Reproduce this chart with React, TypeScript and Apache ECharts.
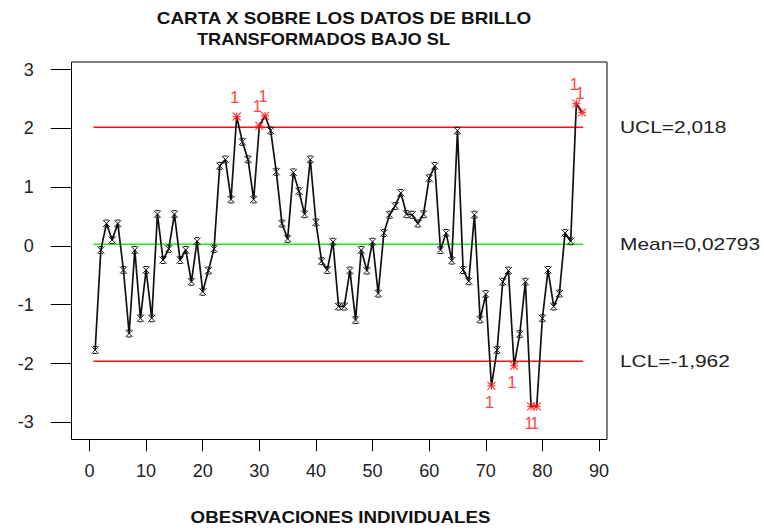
import React, { useEffect, useRef } from "react";
import * as echarts from "echarts";

// Individual observations (transformed brightness data), in order 1..87
const observations: number[] = [
  -1.77, -0.07, 0.38, 0.1, 0.38, -0.41, -1.49, -0.07, -1.23, -0.41,
  -1.23, 0.54, -0.24, -0.05, 0.54, -0.24, -0.07, -0.61, 0.08, -0.78,
  -0.42, -0.05, 1.36, 1.47, 0.79, 2.2, 1.77, 1.47, 0.79, 2.04,
  2.21, 1.96, 1.26, 0.38, 0.12, 1.25, 0.93, 0.54, 1.47, 0.4,
  -0.26, -0.41, 0.07, -1.03, -1.03, -0.42, -1.26, -0.07, -0.42, 0.07,
  -0.81, 0.22, 0.53, 0.68, 0.9, 0.54, 0.53, 0.38, 0.54, 1.15,
  1.36, -0.07, 0.22, -0.25, 1.96, -0.41, -0.6, 0.53, -1.25, -0.82,
  -2.38, -1.77, -0.61, -0.42, -2.04, -1.5, -0.61, -2.73, -2.73, -1.23,
  -0.41, -1.03, -0.81, 0.22, 0.08, 2.42, 2.27,
];

const UCL = 2.018;
const MEAN = 0.02793;
const LCL = -1.962;
const limitSpan: number[] = [0.7, 87.2];

const titleLines: string[] = ["CARTA X SOBRE LOS DATOS DE BRILLO", "TRANSFORMADOS BAJO SL"];
const xAxisTitle = "OBESRVACIONES INDIVIDUALES";
const limitLabels: string[] = ["UCL=2,018", "Mean=0,02793", "LCL=-1,962"];

const X_SYMBOL = "path://M0,0L8,8M8,0L0,8M1.5,0L6.5,0M1.5,8L6.5,8";
const STAR_SYMBOL = "path://M0,0L8,8M8,0L0,8M0,4L8,4M4,0L4,8";

export default function App() {
  const ref = useRef<HTMLDivElement>(null);

  useEffect(() => {
    if (!ref.current) return;
    const chart = echarts.init(ref.current, null, { renderer: "svg" });

    const isOut = (v: number) => v > UCL || v < LCL;
    const mainData = observations.map((v, i) =>
      isOut(v) ? { value: [i + 1, v], symbol: "none" } : { value: [i + 1, v] }
    );
    const outData = observations
      .map((v, i) => ({ v, i }))
      .filter((d) => isOut(d.v))
      .map((d) => ({
        value: [d.i + 1, d.v],
        label: {
          position: d.v > UCL ? "top" : "bottom",
          distance: d.v > UCL ? 6 : 4,
          offset: [-2, 0],
        },
      }));

    const limitLine = (val: number, color: string) => ({
      type: "line",
      data: limitSpan.map((x) => [x, val]),
      symbol: "none",
      lineStyle: { color, width: 1.5 },
      silent: true,
      z: 1,
    });

    const textFont = "'Liberation Sans', Arial, sans-serif";

    chart.setOption({
      animation: false,
      backgroundColor: "#ffffff",
      grid: { left: 89.5, right: 165, top: 69.5, bottom: 107.7 },
      xAxis: {
        type: "value",
        min: 0,
        max: 90,
        interval: 10,
        offset: 17,
        axisLine: { show: false, onZero: false },
        axisTick: { show: true, length: 12, lineStyle: { color: "#000", width: 1 } },
        axisLabel: { margin: 23, fontSize: 18, color: "#222", fontFamily: textFont },
        splitLine: { show: false },
      },
      yAxis: {
        type: "value",
        min: -3,
        max: 3,
        interval: 1,
        offset: 17.8,
        axisLine: { show: false, onZero: false },
        axisTick: { show: true, length: 21, lineStyle: { color: "#000", width: 1 } },
        axisLabel: { margin: 38, fontSize: 18, color: "#222", fontFamily: textFont },
        splitLine: { show: false },
      },
      series: [
        limitLine(UCL, "#ff1010"),
        limitLine(MEAN, "#22e622"),
        limitLine(LCL, "#ff1010"),
        {
          type: "line",
          data: mainData,
          symbol: X_SYMBOL,
          symbolSize: 7,
          showSymbol: true,
          showAllSymbol: true,
          lineStyle: { color: "#111", width: 1.7 },
          itemStyle: { color: "#111", borderColor: "#111", borderWidth: 1 },
          z: 3,
        },
        {
          type: "scatter",
          data: outData,
          symbol: STAR_SYMBOL,
          symbolSize: 8,
          itemStyle: { color: "#ff1010", borderColor: "#ff1010", borderWidth: 1.2 },
          label: {
            show: true,
            formatter: "1",
            color: "#ff1010",
            fontSize: 17,
            fontFamily: textFont,
          },
          z: 4,
        },
      ],
      graphic: [
        {
          type: "rect",
          shape: { x: 71.5, y: 62, width: 535.5, height: 377.5 },
          style: { fill: "none", stroke: "#000", lineWidth: 1 },
          silent: true,
          z: 0,
        },
        {
          type: "text",
          x: 344,
          y: 18.5,
          scaleX: 1.18,
          style: {
            text: titleLines[0],
            fontSize: 16,
            fontWeight: "bold",
            fontFamily: textFont,
            fill: "#111",
            textAlign: "center",
            textVerticalAlign: "middle",
          },
        },
        {
          type: "text",
          x: 323.5,
          y: 39.5,
          scaleX: 1.14,
          style: {
            text: titleLines[1],
            fontSize: 16,
            fontWeight: "bold",
            fontFamily: textFont,
            fill: "#111",
            textAlign: "center",
            textVerticalAlign: "middle",
          },
        },
        {
          type: "text",
          x: 340.5,
          y: 517,
          scaleX: 1.17,
          style: {
            text: xAxisTitle,
            fontSize: 16,
            fontWeight: "bold",
            fontFamily: textFont,
            fill: "#111",
            textAlign: "center",
            textVerticalAlign: "middle",
          },
        },
        ...[UCL, MEAN, LCL].map((val, k) => ({
          type: "text",
          x: 620,
          y: 245.9 - 58.8 * val,
          scaleX: 1.23,
          style: {
            text: limitLabels[k],
            fontSize: 17,
            fontFamily: textFont,
            fill: "#222",
            textAlign: "left",
            textVerticalAlign: "middle",
          },
        })),
      ],
    });

    return () => chart.dispose();
  }, []);

  return (
    <div
      ref={ref}
      style={{ position: "fixed", left: 0, top: 0, width: 764, height: 530, background: "#fff" }}
    />
  );
}
